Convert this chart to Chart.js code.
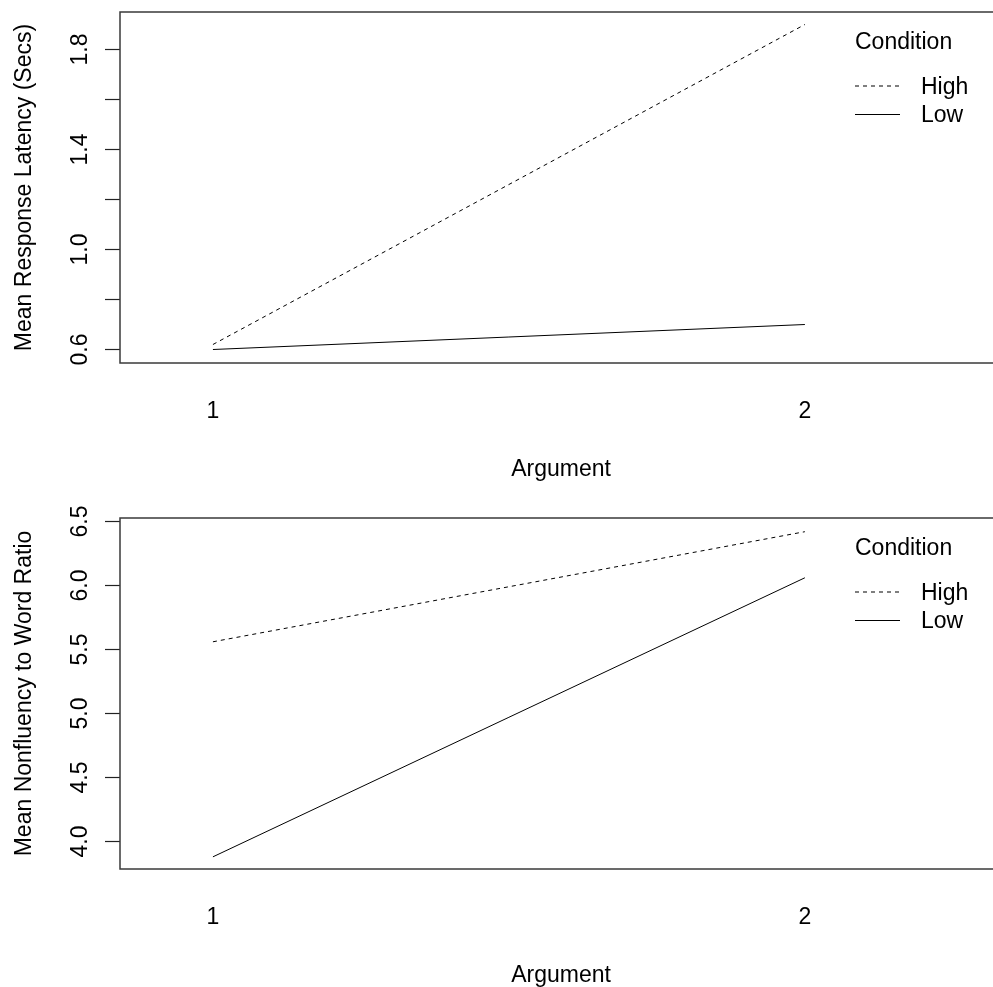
<!DOCTYPE html>
<html lang="en">
<head>
    <meta charset="UTF-8">
    <title>Argument x Condition</title>
    <script src="https://cdn.jsdelivr.net/npm/chart.js@4.4.0/dist/chart.umd.min.js"></script>
    <style>
        html, body {
            margin: 0;
            padding: 0;
            background: #ffffff;
            overflow: hidden;
        }

        body {
            width: 993px;
            height: 987px;
            position: relative;
            overflow: hidden;
        }

        /* panels are a bit wider than the page: the plot box runs off the right edge */
        .panel {
            position: absolute;
            left: 0;
            width: 1002px;
            height: 500px;
        }

        #topPanel { top: 0; }
        #bottomPanel { top: 506px; }
    </style>
</head>
<body>
    <div class="panel" id="topPanel"><canvas id="latencyChart"></canvas></div>
    <div class="panel" id="bottomPanel"><canvas id="nonfluencyChart"></canvas></div>

    <script>
        // data
        const argumentLevels = [1, 2];
        const conditions = ['High', 'Low'];

        const latencyHigh = [0.62, 1.90];
        const latencyLow = [0.60, 0.70];
        const latencyTicks = [0.6, 0.8, 1.0, 1.2, 1.4, 1.6, 1.8];
        const latencyTickLabels = ['0.6', '', '1.0', '', '1.4', '', '1.8'];

        const nonfluencyHigh = [5.56, 6.42];
        const nonfluencyLow = [3.88, 6.06];
        const nonfluencyTicks = [4.0, 4.5, 5.0, 5.5, 6.0, 6.5];
        const nonfluencyTickLabels = ['4.0', '4.5', '5.0', '5.5', '6.0', '6.5'];

        const FONT = '"Liberation Sans", Arial, sans-serif';
        Chart.defaults.font.family = FONT;
        Chart.defaults.font.size = 23;
        Chart.defaults.color = '#000';

        // box around the plotting region
        const plotBox = {
            id: 'plotBox',
            afterDatasetsDraw(chart) {
                const { ctx, chartArea: a } = chart;
                ctx.save();
                ctx.strokeStyle = '#3a3a3a';
                ctx.lineWidth = 1.5;
                ctx.strokeRect(a.left, a.top, a.right - a.left + 10, a.bottom - a.top);
                ctx.restore();
            }
        };

        // R-style legend inside the plot
        const conditionLegend = {
            id: 'conditionLegend',
            afterDraw(chart) {
                const ctx = chart.ctx;
                const x0 = 855, lineEnd = 900, textX = 921;
                ctx.save();
                ctx.font = '23px ' + FONT;
                ctx.fillStyle = '#000';
                ctx.textBaseline = 'middle';
                ctx.fillText('Condition', x0, 43);
                chart.data.datasets.forEach((ds, i) => {
                    const y = 86 + i * 28.5;
                    ctx.strokeStyle = ds.borderColor;
                    ctx.lineWidth = ds.borderWidth;
                    ctx.setLineDash(ds.borderDash || []);
                    ctx.beginPath();
                    ctx.moveTo(x0, y);
                    ctx.lineTo(lineEnd, y);
                    ctx.stroke();
                    ctx.fillText(ds.label, textX, y + 1.5);
                });
                ctx.restore();
            }
        };

        const createChart = (id, high, low, yMin, yMax, yTicks, yLabels, yTitle) => new Chart(
            document.getElementById(id), {
            type: 'line',
            data: {
                datasets: [
                    {
                        label: conditions[0],
                        data: argumentLevels.map((a, i) => ({ x: a, y: high[i] })),
                        borderColor: '#000',
                        borderWidth: 1,
                        borderDash: [4, 4],
                        pointRadius: 0
                    },
                    {
                        label: conditions[1],
                        data: argumentLevels.map((a, i) => ({ x: a, y: low[i] })),
                        borderColor: '#000',
                        borderWidth: 1,
                        pointRadius: 0
                    }
                ]
            },
            options: {
                responsive: true,
                maintainAspectRatio: false,
                animation: false,
                layout: { padding: { top: 12, left: 0, right: 0, bottom: 0 } },
                plugins: {
                    legend: { display: false },
                    tooltip: { enabled: false }
                },
                scales: {
                    x: {
                        type: 'linear',
                        min: 0.843,
                        max: 2.333,
                        afterBuildTicks: s => { s.ticks = argumentLevels.map(v => ({ value: v })); },
                        afterFit: s => { s.height = 137; s.paddingLeft = 0; s.paddingRight = 0; },
                        grid: { display: false, drawTicks: false },
                        border: { display: false },
                        ticks: {
                            padding: 35,
                            maxRotation: 0,
                            autoSkip: false,
                            callback: v => String(v)
                        },
                        title: {
                            display: true,
                            text: 'Argument',
                            padding: { top: 0, bottom: 17 }
                        }
                    },
                    y: {
                        type: 'linear',
                        min: yMin,
                        max: yMax,
                        afterBuildTicks: s => { s.ticks = yTicks.map(v => ({ value: v })); },
                        afterFit: s => { s.width = 120; s.paddingTop = 0; s.paddingBottom = 0; },
                        grid: {
                            drawOnChartArea: false,
                            drawTicks: true,
                            tickLength: 15,
                            tickColor: '#222',
                            tickWidth: 1.2
                        },
                        border: { display: false },
                        ticks: {
                            minRotation: 90,
                            maxRotation: 90,
                            crossAlign: 'center',
                            padding: 8,
                            autoSkip: false,
                            callback: (v, i) => yLabels[i]
                        },
                        title: {
                            display: true,
                            text: yTitle,
                            padding: { top: 11, bottom: 0 }
                        }
                    }
                }
            },
            plugins: [plotBox, conditionLegend]
        });

        createChart('latencyChart', latencyHigh, latencyLow, 0.546, 1.950,
            latencyTicks, latencyTickLabels, 'Mean Response Latency (Secs)');
        createChart('nonfluencyChart', nonfluencyHigh, nonfluencyLow, 3.785, 6.527,
            nonfluencyTicks, nonfluencyTickLabels, 'Mean Nonfluency to Word Ratio');
    </script>
</body>
</html>
